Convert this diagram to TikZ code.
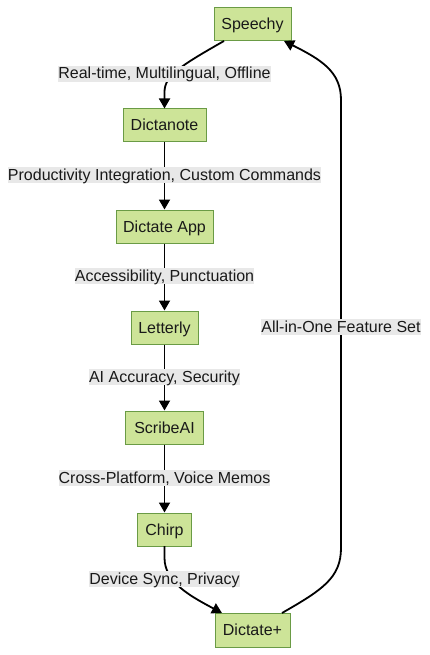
\documentclass[tikz,border=0pt]{standalone}
\usepackage{fontspec}
\setmainfont{Liberation Sans}
\usetikzlibrary{arrows.meta}
\definecolor{nodefill}{HTML}{CDE498}
\definecolor{nodeline}{HTML}{6A9B45}
\definecolor{labelbg}{HTML}{E8E8E8}
\begin{document}
\begin{tikzpicture}[x=1pt,y=-1pt,
  box/.style={draw=nodeline,fill=nodefill,line width=1pt,minimum height=33pt,inner sep=0pt,text height=12pt,text depth=1pt,font=\fontsize{16}{18}\selectfont,text=black!90},
  elabel/.style={fill=labelbg,inner xsep=0pt,inner ysep=0pt,text height=13pt,text depth=3pt,font=\fontsize{16}{18}\selectfont,text=black!90},
  conn/.style={draw=black,line width=1.8pt,-{Triangle[length=10pt,width=11pt]}}]
\useasboundingbox (0,0) rectangle (429,655);
\node[box,minimum width=77pt] (speechy) at (252.5,24.5) {Speechy};
\node[box,minimum width=83pt] (dictanote) at (164.5,125.5) {Dictanote};
\node[box,minimum width=97pt] (dictateapp) at (164.5,226.5) {Dictate App};
\node[box,minimum width=67pt] (letterly) at (164.5,327.5) {Letterly};
\node[box,minimum width=78pt] (scribeai) at (164.5,427.5) {ScribeAI};
\node[box,minimum width=54pt] (chirp) at (164.5,529.5) {Chirp};
\node[box,minimum width=75pt,minimum height=34pt] (dictateplus) at (252.5,630) {Dictate+};
\coordinate (s1) at (224,41);
\coordinate (s2) at (282,613);
\coordinate (s3) at (284,41);
\coordinate (c1) at (164.5,546);
\coordinate (c2) at (222,613);
\draw[conn] (s1) .. controls (180,66) and (164.5,76) .. (164.5,92) -- (dictanote.north);
\draw[conn] (dictanote) -- (dictateapp);
\draw[conn] (dictateapp) -- (letterly);
\draw[conn] (letterly) -- (scribeai);
\draw[conn] (scribeai) -- (chirp);
\draw[conn] (c1) -- (164.5,558) .. controls (164.5,582) and (190,596) .. (c2);
\draw[conn] (s2) .. controls (322,590) and (341,578) .. (341,548) -- (341,100) .. controls (341,72) and (322,60) .. (s3);
\node[elabel] (l1) at (164.5,74) {Real-time, Multilingual, Offline};
\node[elabel] (l2) at (164.5,175) {Productivity Integration, Custom Commands};
\node[elabel] (l3) at (164.5,276) {Accessibility, Punctuation};
\node[elabel] (l4) at (164.5,377) {AI Accuracy, Security};
\node[elabel] (l5) at (164.5,478) {Cross-Platform, Voice Memos};
\node[elabel] (l6) at (164.5,579) {Device Sync, Privacy};
\node[elabel] (l7) at (341,327) {All-in-One Feature Set};
\end{tikzpicture}
\end{document}
